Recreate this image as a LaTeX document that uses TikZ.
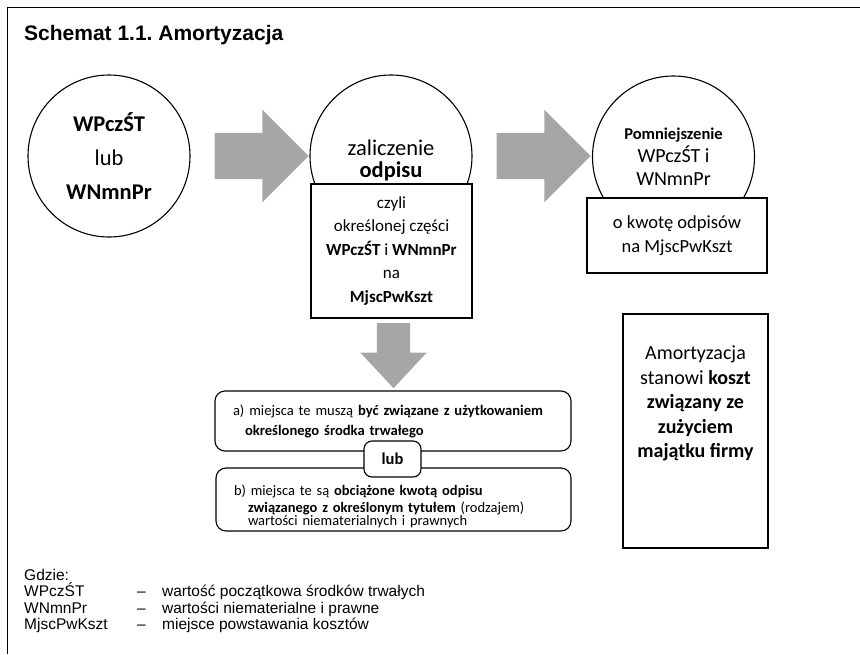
\documentclass[tikz,border=0pt]{standalone}
\usepackage{fontspec}
\setmainfont{Carlito}
\newfontfamily\arialfont{Liberation Sans}
\usetikzlibrary{shapes,positioning}
\definecolor{arrowgray}{HTML}{A6A6A6}
\frenchspacing

\begin{document}
\begin{tikzpicture}[x=1pt,y=-1pt,
	circ/.style={draw, circle, fill=white, line width=1.1pt,
		minimum size=162pt, inner sep=0, align=center},
	box/.style={draw, rectangle, fill=white, line width=1.1pt,
		inner sep=0, align=center},
	roundbox/.style={draw, rectangle, rounded corners=10pt, fill=white,
		line width=1.1pt, inner xsep=18pt, inner ysep=1pt, align=left},
	blockarrow/.style={single arrow, fill=arrowgray, draw=none,
		single arrow head indent=0pt}
	]
		\useasboundingbox (0,0) rectangle (860,654);
		\draw[line width=1.3pt] (860,7.5) -- (7.5,7.5) -- (7.5,654);

		\node[anchor=base west,
			inner sep=0,
			font=\arialfont\bfseries\fontsize{21}{24}\selectfont
		] (title) at (24,40) {Schemat 1.1. Amortyzacja};

		\node[circ,
			font=\fontsize{22.5}{34}\selectfont
		] (start) at (109,156) {\textbf{WPczŚT}\\lub\\\textbf{WNmnPr}};

		\node[circ,
			font=\fontsize{22.5}{21.5}\selectfont
		] (zalicz) at (391,156) {\rule{0pt}{25pt}zaliczenie\\\textbf{odpisu}};

		\node[box,
			minimum width=161pt,
			minimum height=134pt,
			font=\fontsize{17}{23.5}\selectfont
		] (czyli) at (391.5,251) {czyli\\określonej części\\\textbf{WPczŚT} i \textbf{WNmnPr}\\na\\\textbf{MjscPwKszt}};

		\node[circ,
			font=\fontsize{20}{23}\selectfont
		] (pomn) at (673.5,157) {{\fontsize{16.5}{20}\selectfont\textbf{Pomniejszenie}}\\WPczŚT i\\WNmnPr};

		\node[box,
			minimum width=180pt,
			minimum height=75pt,
			font=\fontsize{18.5}{24}\selectfont
		] (kwota) at (677,235.5) {o kwotę odpisów\\na MjscPwKszt};

		\node[blockarrow,
			inner sep=23pt,
			minimum height=94pt,
			minimum width=92pt,
			single arrow head extend=23pt,
			single arrow tip angle=90
		] (arrA) at (250,156) {};

		\node[blockarrow,
			inner sep=23pt,
			minimum height=94pt,
			minimum width=92pt,
			single arrow head extend=23pt,
			single arrow tip angle=90
		] (arrB) at (532,156) {};

		\node[box,
			minimum width=145pt,
			minimum height=234pt,
			font=\fontsize{20}{24.5}\selectfont
		] (koszt) at (695.5,431) {Amortyzacja\\stanowi \textbf{koszt}\\\textbf{związany ze}\\\textbf{zużyciem}\\\textbf{majątku firmy}\\\rule[-34pt]{0pt}{34pt}};

		\node[blockarrow,
			shape border rotate=270,
			inner sep=16.5pt,
			minimum height=65pt,
			minimum width=66pt,
			single arrow head extend=16.5pt,
			single arrow tip angle=86,
			anchor=tail
		] (down) at (393.5,323) {};

		\node[roundbox,
			text width=320pt,
			minimum height=60pt,
			font=\fontsize{14.6}{20}\selectfont
		] (musza) at (393,421) {a) miejsca te muszą \textbf{być związane z użytkowaniem}\\\hspace*{12pt}\textbf{określonego środka trwałego}};

		\node[roundbox,
			text width=319pt,
			minimum height=63pt,
			font=\fontsize{14.5}{17}\selectfont
		] (obciaz) at (393.5,499.5) {\rule{0pt}{25pt}b) miejsca te są \textbf{obciążone kwotą odpisu}\\\hspace*{14pt}\textbf{związanego z określonym tytułem} (rodzajem)\\[-4pt]\hspace*{14pt}wartości niematerialnych i prawnych};

		\node[roundbox,
			rounded corners=8pt,
			minimum width=57pt,
			minimum height=36pt,
			inner sep=0,
			align=center,
			font=\fontsize{16.5}{20}\selectfont\bfseries
		] (lub) at (392.5,459) {lub};

		\node[anchor=north west,
			inner sep=0,
			align=left,
			font=\arialfont\fontsize{15.5}{16.3}\selectfont
		] (gdzie) at (24,569) {Gdzie:\\
			\makebox[113pt][l]{WPczŚT}\makebox[25pt][l]{–}wartość początkowa środków trwałych\\
			\makebox[113pt][l]{WNmnPr}\makebox[25pt][l]{–}wartości niematerialne i prawne\\
			\makebox[113pt][l]{MjscPwKszt}\makebox[25pt][l]{–}miejsce powstawania kosztów};

	\end{tikzpicture}
\end{document}
